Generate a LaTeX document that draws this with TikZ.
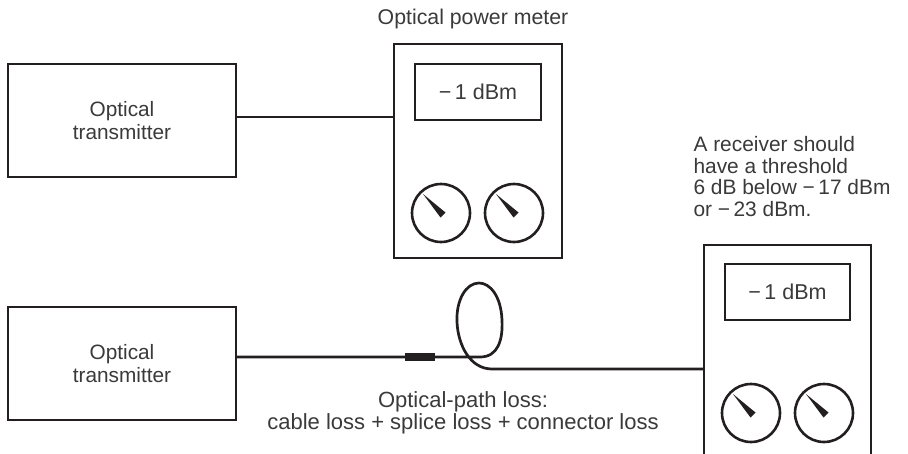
\documentclass[tikz,border=0pt]{standalone}
\usepackage{fontspec}
\setmainfont{Liberation Sans}
\definecolor{lc}{HTML}{231F20}
\definecolor{tc}{HTML}{3A3A3A}
\begin{document}
\begin{tikzpicture}[x=1pt,y=-1pt,
  box/.style={draw=lc,line width=2.9pt,inner sep=0pt,outer sep=0pt},
  lbl/.style={text=tc,font=\fontsize{20.8}{23}\selectfont,align=center},
  fiber/.style={draw=lc,line width=2.7pt},
  dial/.style={circle,draw=lc,line width=2.6pt,minimum size=58pt,inner sep=0pt,outer sep=0pt},
  needle/.pic={\fill[lc] (-18,-19) -- (4.5,-0.5) -- (-0.5,4.5) -- cycle;}]
\useasboundingbox (0,0) rectangle (908,453);
\clip (0,0) rectangle (908,453);
% transmitters
\node[box,lbl,minimum width=228pt,minimum height=113pt] (tx1) at (122,120.5) {Optical\\transmitter};
\node[box,lbl,minimum width=228pt,minimum height=113pt] (tx2) at (122,363.5) {Optical\\transmitter};
% meter 1
\node[box,minimum width=168pt,minimum height=214pt] (m1) at (478,151) {};
\node[box,lbl,minimum width=126pt,minimum height=56pt,font=\fontsize{21.5}{23}\selectfont] (d1) at (478,92) {−\,1 dBm};
\node[dial] (k1) at (441,213) {};
\node[dial] (k2) at (514,213) {};
\pic at (k1.center) {needle};
\pic at (k2.center) {needle};
% meter 2
\node[box,minimum width=167pt,minimum height=260pt] (m2) at (787.5,375) {};
\node[box,lbl,minimum width=125pt,minimum height=56pt,font=\fontsize{21.5}{23}\selectfont] (d2) at (787.5,292) {−\,1 dBm};
\node[dial] (k3) at (751,413) {};
\node[dial] (k4) at (824,413) {};
\pic at (k3.center) {needle};
\pic at (k4.center) {needle};
% connectors
\draw[fiber] ([yshift=3.5pt]tx1.east) -- ([yshift=3.5pt]tx1.east -| m1.west);
\coordinate (loopend) at (492,369);
\draw[fiber] ([yshift=6.5pt]tx2.east) -- (480,357)
  .. controls (498,357) and (503,340) .. (502,320)
  .. controls (501,296) and (490,283) .. (479,283)
  .. controls (466,283) and (456,300) .. (457,322)
  .. controls (458,345) and (470,369) .. (loopend)
  -- (loopend -| m2.west);
\node[fill=lc,minimum width=30pt,minimum height=8pt,inner sep=0pt] (conn) at (420,357) {};
% labels
\node[lbl,font=\fontsize{21.3}{23}\selectfont] (title) at (473,19) {Optical power meter};
\node[lbl,align=left,anchor=north west,font=\fontsize{20.9}{21.5}\selectfont] (note) at (690,133) {A receiver should\\have a threshold\\6 dB below −\,17 dBm\\or −\,23 dBm.};
\node[lbl,font=\fontsize{22}{22}\selectfont] (loss) at (463,413) {Optical-path loss:\\cable loss + splice loss + connector loss};
\end{tikzpicture}
\end{document}
